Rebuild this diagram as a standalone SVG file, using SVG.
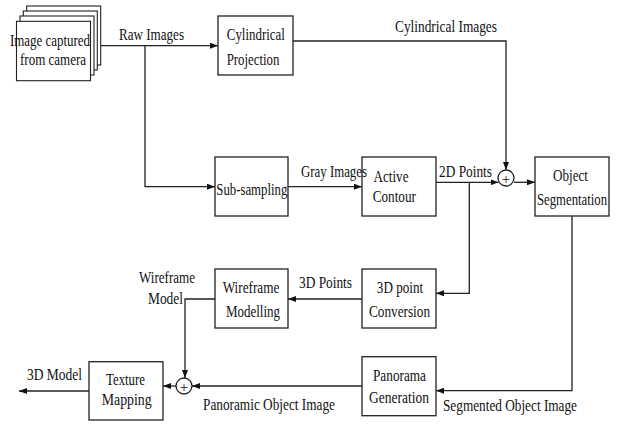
<svg xmlns="http://www.w3.org/2000/svg" width="618" height="427" viewBox="0 0 618 427">
<style>
.b{fill:#fff;stroke:#222;stroke-width:1.3}
.c{fill:none;stroke:#222;stroke-width:1.3}
.s{fill:#fff;stroke:#222;stroke-width:1.1}
text{font-family:"Liberation Serif","Times New Roman",serif;font-size:16px;fill:#111;text-anchor:middle}
.p{font-size:15px}
</style>
<defs>
<marker id="a" markerWidth="8" markerHeight="6" refX="8" refY="3" orient="auto" markerUnits="userSpaceOnUse">
<path d="M0,0 L8,3 L0,6 Z" fill="#111"/>
</marker>
</defs>
<rect width="618" height="427" fill="#fff"/>
<g id="connectors">
<path class="c" d="M100.7,45.7 H218" marker-end="url(#a)"/>
<path class="c" d="M145,45.7 V186.7 H215" marker-end="url(#a)"/>
<path class="c" d="M293,41 H506 V170" marker-end="url(#a)"/>
<path class="c" d="M288,186.7 H362" marker-end="url(#a)"/>
<path class="c" d="M436,182.3 H498.5" marker-end="url(#a)"/>
<path class="c" d="M514,182.3 H535" marker-end="url(#a)"/>
<path class="c" d="M469.3,182.3 V293.3 H436" marker-end="url(#a)"/>
<path class="c" d="M362,299 H288" marker-end="url(#a)"/>
<path class="c" d="M215,299 H185 V378" marker-end="url(#a)"/>
<path class="c" d="M176,386 H163" marker-end="url(#a)"/>
<path class="c" d="M362,386 H192" marker-end="url(#a)"/>
<path class="c" d="M89,391 H19" marker-end="url(#a)"/>
<path class="c" d="M572,216 V390.7 H436" marker-end="url(#a)"/>
<circle class="c" cx="506" cy="178" r="8"/>
<text class="p" x="506" y="183.5">+</text>
<circle class="c" cx="184" cy="386" r="8"/>
<text class="p" x="184" y="391.5">+</text>
</g>
<g id="camera">
<rect class="s" x="26.7" y="6" width="74" height="59"/>
<rect class="s" x="23.3" y="11" width="74" height="59"/>
<rect class="s" x="20" y="16" width="74" height="59"/>
<rect class="s" x="16.5" y="21.3" width="74" height="59.4"/>
<text x="50" y="46" textLength="80" lengthAdjust="spacingAndGlyphs">Image captured</text>
<text x="53" y="65" textLength="66" lengthAdjust="spacingAndGlyphs">from camera</text>
</g>
<g id="cyl">
<rect class="b" x="218" y="16" width="75" height="59"/>
<text x="255.8" y="40" textLength="58" lengthAdjust="spacingAndGlyphs">Cylindrical</text>
<text x="253" y="65" textLength="52.6" lengthAdjust="spacingAndGlyphs">Projection</text>
</g>
<g id="sub">
<rect class="b" x="215" y="157" width="73" height="59"/>
<text x="251.8" y="195" textLength="71" lengthAdjust="spacingAndGlyphs">Sub-sampling</text>
</g>
<g id="active">
<rect class="b" x="362" y="157" width="74" height="59"/>
<text x="391" y="181.7" textLength="35" lengthAdjust="spacingAndGlyphs">Active</text>
<text x="394.3" y="202.3" textLength="43.3" lengthAdjust="spacingAndGlyphs">Contour</text>
</g>
<g id="objseg">
<rect class="b" x="535" y="157" width="74" height="59"/>
<text x="570.5" y="180.7" textLength="35" lengthAdjust="spacingAndGlyphs">Object</text>
<text x="572" y="205" textLength="70" lengthAdjust="spacingAndGlyphs">Segmentation</text>
</g>
<g id="conv3d">
<rect class="b" x="362" y="269" width="74" height="59"/>
<text x="400" y="293.3" textLength="46.3" lengthAdjust="spacingAndGlyphs">3D point</text>
<text x="399.5" y="316.7" textLength="61" lengthAdjust="spacingAndGlyphs">Conversion</text>
</g>
<g id="wire">
<rect class="b" x="215" y="269" width="73" height="59"/>
<text x="251" y="293.3" textLength="56.7" lengthAdjust="spacingAndGlyphs">Wireframe</text>
<text x="253" y="316.7" textLength="54" lengthAdjust="spacingAndGlyphs">Modelling</text>
</g>
<g id="texture">
<rect class="b" x="89" y="361.7" width="74" height="58.3"/>
<text x="125.5" y="385" textLength="39" lengthAdjust="spacingAndGlyphs">Texture</text>
<text x="126.7" y="405" textLength="50" lengthAdjust="spacingAndGlyphs">Mapping</text>
</g>
<g id="panorama">
<rect class="b" x="362" y="356.7" width="74" height="59"/>
<text x="399.5" y="381" textLength="53" lengthAdjust="spacingAndGlyphs">Panorama</text>
<text x="399" y="403" textLength="60" lengthAdjust="spacingAndGlyphs">Generation</text>
</g>
<g id="labels">
<text x="151.5" y="40" textLength="65" lengthAdjust="spacingAndGlyphs">Raw Images</text>
<text x="446" y="32" textLength="102" lengthAdjust="spacingAndGlyphs">Cylindrical Images</text>
<text x="334" y="177" textLength="66" lengthAdjust="spacingAndGlyphs">Gray Images</text>
<text x="465.5" y="177" textLength="53" lengthAdjust="spacingAndGlyphs">2D Points</text>
<text x="325.5" y="288" textLength="53" lengthAdjust="spacingAndGlyphs">3D Points</text>
<text x="167" y="283" textLength="56" lengthAdjust="spacingAndGlyphs">Wireframe</text>
<text x="165.5" y="304" textLength="35" lengthAdjust="spacingAndGlyphs">Model</text>
<text x="54.5" y="380" textLength="55" lengthAdjust="spacingAndGlyphs">3D Model</text>
<text x="269" y="410" textLength="132" lengthAdjust="spacingAndGlyphs">Panoramic Object Image</text>
<text x="510" y="411" textLength="134" lengthAdjust="spacingAndGlyphs">Segmented Object Image</text>
</g>
</svg>
